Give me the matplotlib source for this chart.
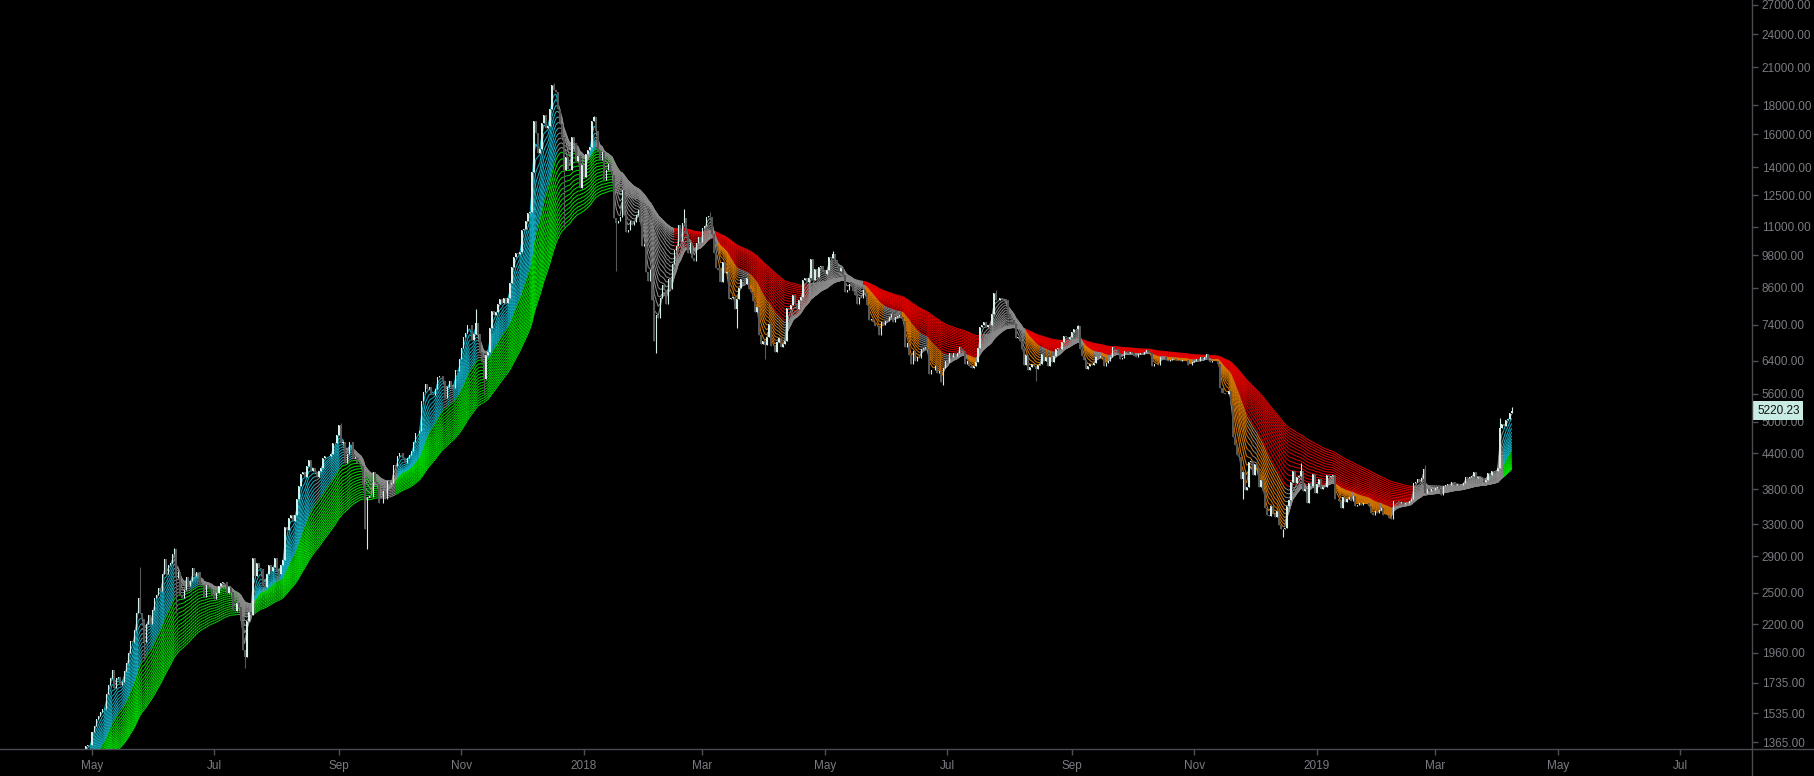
import matplotlib
matplotlib.use('Agg')
import matplotlib.pyplot as plt
import matplotlib.dates as mdates
from matplotlib.collections import LineCollection
from matplotlib.lines import Line2D
import numpy as np
import pandas as pd

# daily closes, starting 2017-02-01
close_2017 = [
    970, 1010, 1015, 1030, 1015, 1025, 1050, 1055, 980, 995, 1005, 1000, 995, 1010, 1010, 1030, 1050, 1055, 1050, 1080, 1120, 1120, 1170, 1175, 1150, 1180, 1190, 1190,
    1220, 1255, 1280, 1260, 1270, 1275, 1230, 1150, 1190, 1100, 1180, 1230, 1240, 1245, 1255, 1175, 1070, 965, 1020, 1045, 1115, 1040, 1030, 965, 965, 995, 1040, 1045, 1040, 1035, 1080,
    1090, 1100, 1145, 1140, 1130, 1195, 1190, 1180, 1205, 1205, 1210, 1200, 1170, 1180, 1185, 1185, 1205, 1215, 1230, 1255, 1260, 1245, 1250, 1250, 1265, 1285, 1330, 1345, 1350, 1350,
    1420, 1455, 1500, 1520, 1540, 1560, 1560, 1660, 1720, 1770, 1830, 1700, 1770, 1780, 1720, 1740, 1820, 1880, 1960, 2060, 2050, 2150, 2300, 2450, 2300, 2250, 2050, 2200, 2280, 2200, 2330,
    2450, 2480, 2550, 2520, 2700, 2870, 2700, 2800, 2820, 2920, 2980, 2650, 2720, 2480, 2450, 2530, 2660, 2570, 2620, 2760, 2680, 2720, 2720, 2580, 2580, 2460, 2580, 2560, 2540, 2480,
    2440, 2500, 2570, 2600, 2610, 2610, 2500, 2560, 2510, 2330, 2320, 2400, 2360, 2230, 1980, 1930, 2230, 2310, 2280, 2880, 2680, 2820, 2760, 2750, 2580, 2560, 2700, 2800, 2730, 2770, 2880,
    2730, 2700, 2800, 2860, 3260, 3220, 3380, 3420, 3340, 3420, 3650, 3850, 4050, 4070, 4000, 4180, 4280, 4100, 4150, 4070, 3990, 4090, 4150, 4320, 4350, 4340, 4350, 4380, 4580, 4580, 4730,
    4930, 4580, 4600, 4230, 4380, 4600, 4600, 4310, 4330, 4230, 4210, 4170, 3870, 3230, 3690, 3700, 3680, 4080, 3910, 3880, 3600, 3600, 3780, 3660, 3930, 3880, 3900, 4200, 4180, 4340,
    4400, 4400, 4320, 4220, 4320, 4370, 4430, 4610, 4780, 4770, 4820, 5430, 5640, 5820, 5700, 5750, 5600, 5570, 5710, 5990, 6000, 6010, 5900, 5510, 5740, 5890, 5760, 5720, 6160, 6130, 6450,
    6740, 7030, 7160, 7400, 7380, 6960, 7120, 7460, 7140, 6620, 6360, 5950, 6550, 6620, 7300, 7820, 7700, 7790, 8040, 8200, 8070, 8250, 8090, 8240, 8750, 9330, 9720, 9900, 9840, 9950,
    10850, 10910, 11240, 11620, 11670, 13750, 16850, 16050, 14850, 15060, 16740, 17300, 16400, 16550, 17710, 19500, 19140, 18950, 17700, 16650, 15800, 13850, 14600, 13900, 13830, 15800, 15450, 14380, 14640, 12850, 14150,
]
close_2018 = [
    13440, 14750, 15000, 15170, 16900, 17180, 16200, 14950, 14430, 14880, 13290, 13860, 14190, 13770, 13580, 11420, 11160, 11250, 11430, 12780, 11530, 10760, 10860, 11280, 11080, 11230, 11550, 11790, 11210, 10180, 10240,
    9170, 8830, 9220, 8180, 6940, 7700, 7590, 8240, 8690, 8530, 8060, 8900, 8540, 9480, 10030, 10170, 11080, 10380, 11150, 11420, 10690, 9910, 10300, 9690, 9590, 10320, 10570, 10330,
    10930, 11030, 11450, 11500, 11450, 10700, 9910, 9300, 9230, 8790, 9530, 9130, 9150, 8200, 8260, 8270, 7870, 8200, 8600, 8920, 8900, 8720, 8930, 8550, 8460, 8130, 7800, 7950, 7090, 6840, 6930,
    6820, 7050, 7420, 6790, 6780, 6620, 6900, 7020, 6770, 6830, 6930, 7920, 7890, 8000, 8360, 8060, 7900, 8170, 8290, 8860, 8930, 8810, 8940, 9650, 8870, 9280, 8980, 9350, 9400, 9240,
    9070, 9230, 9740, 9700, 9860, 9620, 9370, 9190, 9320, 9050, 8440, 8500, 8710, 8680, 8480, 8340, 8060, 8240, 8240, 8530, 8400, 8000, 7540, 7580, 7470, 7350, 7360, 7110, 7470, 7400, 7500,
    7520, 7640, 7720, 7490, 7620, 7660, 7690, 7620, 7500, 6770, 6880, 6550, 6310, 6640, 6400, 6490, 6460, 6710, 6740, 6760, 6720, 6050, 6170, 6150, 6250, 6080, 6130, 5860, 6200, 6390,
    6350, 6610, 6500, 6590, 6530, 6600, 6750, 6710, 6660, 6300, 6380, 6250, 6220, 6250, 6350, 6730, 7320, 7380, 7470, 7340, 7400, 7400, 7720, 8400, 8170, 8180, 8240, 8220, 8210, 8170, 7730,
    7610, 7540, 7420, 7010, 7030, 6940, 6720, 6280, 6540, 6150, 6240, 6310, 6260, 6190, 6280, 6320, 6580, 6400, 6490, 6270, 6480, 6370, 6530, 6700, 6730, 6710, 6910, 7080, 7030, 6990, 7030,
    7190, 7280, 7260, 7360, 6700, 6510, 6420, 6190, 6250, 6310, 6290, 6340, 6500, 6480, 6520, 6500, 6250, 6340, 6390, 6490, 6760, 6710, 6710, 6590, 6440, 6470, 6650, 6640, 6600, 6630,
    6590, 6530, 6500, 6580, 6610, 6580, 6620, 6680, 6630, 6590, 6250, 6300, 6300, 6280, 6480, 6490, 6480, 6420, 6400, 6420, 6430, 6430, 6410, 6420, 6400, 6410, 6420, 6410, 6280, 6290, 6350,
    6400, 6440, 6390, 6500, 6440, 6480, 6560, 6420, 6360, 6400, 6400, 6400, 6320, 5720, 5620, 5580, 5580, 5660, 5340, 4700, 4540, 4370, 4330, 3960, 4080, 3790, 3830, 4250, 4270, 4020,
    4210, 4140, 3840, 3950, 3770, 3530, 3420, 3410, 3550, 3440, 3400, 3480, 3290, 3240, 3240, 3250, 3550, 3640, 3920, 4100, 3900, 4000, 4010, 4100, 3780, 3810, 3600, 3900, 3850, 4050, 3740,
]
close_2019 = [
    3880, 3960, 3800, 3840, 3830, 4030, 4000, 4010, 4030, 3650, 3650, 3620, 3530, 3690, 3610, 3660, 3680, 3620, 3700, 3550, 3560, 3600, 3570, 3600, 3590, 3590, 3550, 3450, 3420, 3480, 3450,
    3490, 3520, 3420, 3420, 3430, 3380, 3370, 3620, 3620, 3630, 3590, 3610, 3580, 3600, 3600, 3620, 3660, 3900, 3920, 3970, 3930, 3980, 4130, 3740, 3800, 3770, 3800, 3790,
    3820, 3830, 3800, 3720, 3850, 3860, 3880, 3860, 3920, 3910, 3860, 3880, 3870, 3870, 3900, 4000, 3980, 4000, 4010, 4070, 3980, 3990, 3990, 3980, 3920, 3940, 4060, 4030, 4090, 4100, 4100,
    4140, 4880, 4960, 4910, 5030, 5060, 5180, 5220.23,
]

# long wicks that stand out
wick_hi_dates = ['2017-05-25', '2017-06-11', '2017-09-02', '2017-11-08', '2017-12-17', '2018-01-06',
                 '2018-02-20', '2018-03-05', '2018-05-05', '2018-07-25', '2018-09-04', '2018-12-24',
                 '2019-02-24', '2019-04-02', '2019-04-08']
wick_hi = [2770, 3000, 4980, 7880, 19700, 17250, 11800, 11700, 9960, 8500, 7400, 4230, 4200, 5080, 5300]
wick_lo_dates = ['2017-05-27', '2017-06-12', '2017-07-16', '2017-09-15', '2017-11-12', '2017-12-22',
                 '2018-01-17', '2018-02-06', '2018-03-18', '2018-04-01', '2018-06-29', '2018-08-14',
                 '2018-11-25', '2018-12-15']
wick_lo = [1900, 2300, 1840, 2980, 5600, 11000, 9200, 6600, 7300, 6450, 5800, 5900, 3650, 3130]

y_ticks = [1365, 1535, 1735, 1960, 2200, 2500, 2900, 3300, 3800, 4400, 5000, 5600, 6400, 7400,
           8600, 9800, 11000, 12500, 14000, 16000, 18000, 21000, 24000, 27000]
x_tick_dates = ['2017-05-01', '2017-07-01', '2017-09-01', '2017-11-01', '2018-01-01', '2018-03-01',
                '2018-05-01', '2018-07-01', '2018-09-01', '2018-11-01', '2019-01-01', '2019-03-01',
                '2019-05-01', '2019-07-01']
x_tick_labels = ['May', 'Jul', 'Sep', 'Nov', '2018', 'Mar', 'May', 'Jul', 'Sep', 'Nov', '2019', 'Mar', 'May', 'Jul']

fast_periods = [3, 5, 7, 9, 11, 13, 15, 17, 19, 21, 23]
slow_periods = [25, 28, 31, 34, 37, 40, 43, 46, 49, 52, 55, 58, 61, 64, 67, 70]

close = np.array(close_2017 + close_2018 + close_2019, dtype=float)
dates = pd.date_range('2017-02-01', periods=len(close), freq='D')
x = mdates.date2num(dates.to_pydatetime())

opn = np.r_[close[0], close[:-1]]
high = np.maximum(opn, close)
low = np.minimum(opn, close)
for d, v in zip(wick_hi_dates, wick_hi):
    i = dates.get_loc(pd.Timestamp(d))
    high[i] = max(high[i], v)
for d, v in zip(wick_lo_dates, wick_lo):
    i = dates.get_loc(pd.Timestamp(d))
    low[i] = min(low[i], v)

s = pd.Series(close)
F = np.vstack([s.ewm(span=p, adjust=False).mean().values for p in fast_periods])
S = np.vstack([s.ewm(span=p, adjust=False).mean().values for p in slow_periods])
fast_up = np.all(F[:-1] > F[1:], axis=0)
fast_dn = np.all(F[:-1] < F[1:], axis=0)
slow_up = np.all(S[:-1] > S[1:], axis=0)
slow_dn = np.all(S[:-1] < S[1:], axis=0)

CYAN, LIME, RED, ORANGE, GRAY = '#14adc2', '#00dc00', '#e50000', '#d87800', '#8a8a8a'
fast_col = np.where(fast_up & slow_up, CYAN, np.where(fast_dn & slow_dn, ORANGE, GRAY))
slow_col = np.where(slow_up, LIME, np.where(slow_dn, RED, GRAY))

fig = plt.figure(figsize=(18.14, 7.76), dpi=100, facecolor='black')
ax = fig.add_axes([0, 27 / 776, 1752 / 1814, 749 / 776], facecolor='black')
ax.set_yscale('log')


def ribbon(vals, cols, z):
    for line in vals:
        pts = np.column_stack([x, line])
        segs = np.stack([pts[:-1], pts[1:]], axis=1)
        lc = LineCollection(segs, colors=cols[1:], linewidths=0.75, zorder=z)
        ax.add_collection(lc)


ribbon(S, slow_col, 2)
ribbon(F, fast_col, 3)

up = close >= opn
ax.vlines(x[up], low[up], high[up], color='#d4eeea', lw=0.8, zorder=4)
ax.vlines(x[~up], low[~up], high[~up], color='#575757', lw=0.8, zorder=4)
ax.bar(x[up], close[up] - opn[up], bottom=opn[up], width=0.5, color='#d4eeea', zorder=5)
ax.bar(x[~up], opn[~up] - close[~up], bottom=close[~up], width=1.0, color='#575757', zorder=5)

left = mdates.date2num(pd.Timestamp('2017-05-01')) - 92 / 2.008
ax.set_xlim(left, left + 1752 / 2.008)
ax.set_ylim(1328, 27550)

ax.yaxis.tick_right()
ax.set_yticks(y_ticks)
ax.set_yticklabels(['%.2f' % v for v in y_ticks])
ax.yaxis.set_minor_locator(matplotlib.ticker.NullLocator())
ax.set_xticks(mdates.date2num(pd.to_datetime(x_tick_dates).to_pydatetime()))
ax.set_xticklabels(x_tick_labels)
ax.tick_params(axis='both', colors='#505058', labelcolor='#7a7a82', length=4, width=1,
               labelsize=8.5, labelfontfamily='Liberation Sans')
ax.tick_params(axis='y', pad=3)
ax.tick_params(axis='x', pad=4)
for sp in ax.spines.values():
    sp.set_visible(False)

fig.add_artist(Line2D([0, 1], [27 / 776, 27 / 776], transform=fig.transFigure, color='#4a4a52', lw=1))
fig.add_artist(Line2D([1752 / 1814, 1752 / 1814], [0, 1], transform=fig.transFigure, color='#4a4a52', lw=1))

ax.annotate('5220.23', xy=(1.0, close[-1]), xycoords=('axes fraction', 'data'),
            xytext=(5, 0), textcoords='offset pixels', ha='left', va='center',
            fontsize=8.5, family='Liberation Sans', color='#111111', zorder=10, annotation_clip=False,
            bbox=dict(boxstyle='square,pad=0.3', facecolor='#c8ebe4', edgecolor='none'))

plt.savefig('out.png', dpi=100, facecolor='black')
